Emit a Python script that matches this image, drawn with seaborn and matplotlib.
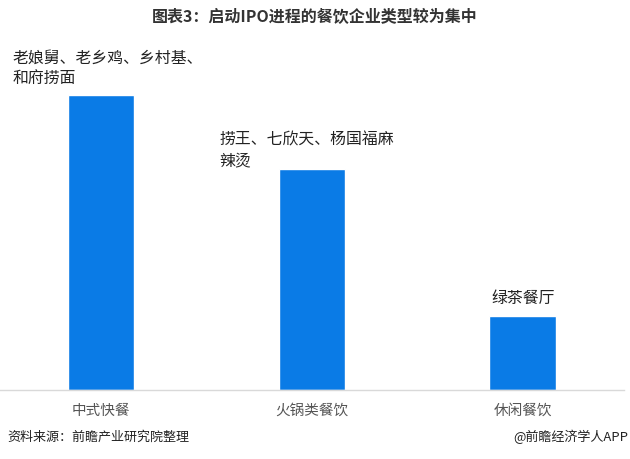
import matplotlib
matplotlib.use("Agg")
import matplotlib.pyplot as plt
import seaborn as sns
import pandas as pd

categories = ["中式快餐", "火锅类餐饮", "休闲餐饮"]
values = [4, 3, 1]
annotations = ["老娘舅、老乡鸡、乡村基、\n和府捞面", "捞王、七欣天、杨国福麻\n辣烫", "绿茶餐厅"]
title = "图表3：启动IPO进程的餐饮企业类型较为集中"
source = "资料来源：前瞻产业研究院整理"
credit = "@前瞻经济学人APP"

sns.set_theme(style="white")
plt.rcParams['font.family'] = ['Noto Sans CJK SC', 'DejaVu Sans']

df = pd.DataFrame({"cat": categories, "val": values})

fig = plt.figure(figsize=(6.3, 4.6), dpi=100)
ax = fig.add_axes([0.0, 0.15, 0.99, 0.763])

sns.barplot(data=df, x="cat", y="val", color="#0A7BE6", width=0.314, saturation=1, ax=ax, zorder=2)
ax.set_xlim(-0.48, 2.48)
ax.set_ylim(0, 4.76)
ax.set_xlabel("")
ax.set_ylabel("")
ax.set_yticks([])
for s in ["top", "right", "left"]:
    ax.spines[s].set_visible(False)
ax.spines["bottom"].set_color("#d9d9d9")
ax.spines["bottom"].set_linewidth(1.0)
ax.tick_params(axis="x", length=0, pad=9, labelsize=10.5, labelcolor="#555555")

# annotations (left-aligned offsets relative to bar centers)
offsets_x = [-0.42, -0.44, -0.15]
offsets_y = [0.12, 0.0, 0.14]
for i, (v, t) in enumerate(zip(values, annotations)):
    ax.text(i + offsets_x[i], v + offsets_y[i], t, ha="left", va="bottom", fontsize=11.4,
            color="#222222", linespacing=1.3)

fig.text(0.5, 0.962, title, ha="center", va="center", fontsize=11.5,
         fontweight="bold", color="#333333")
fig.text(0.011, 0.05, source, ha="left", va="center", fontsize=9.4, color="#222222")
fig.text(0.997, 0.05, credit, ha="right", va="center", fontsize=9.4, color="#222222")

fig.savefig("out.png", dpi=100)
